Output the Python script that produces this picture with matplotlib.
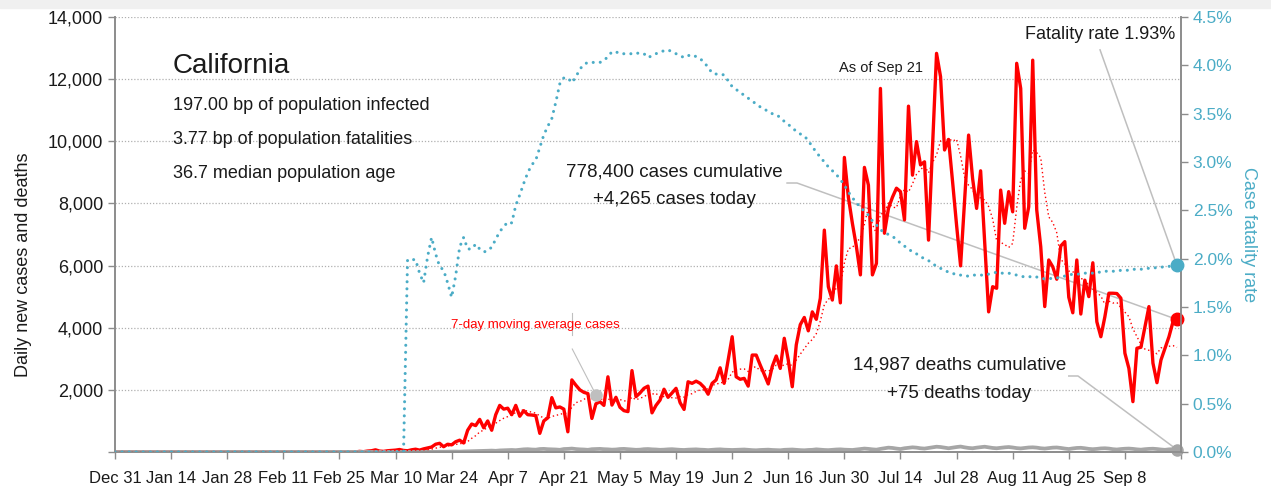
import matplotlib
matplotlib.use("Agg")
import matplotlib.pyplot as plt
from matplotlib.patches import Rectangle
import numpy as np
import pandas as pd

plt.rcParams["font.family"] = ["Liberation Sans", "DejaVu Sans"]

# ---- data ----
start = pd.Timestamp("2019-12-31")
end = pd.Timestamp("2020-09-21")
first_case_day = pd.Timestamp("2020-03-01")
first_cfr_day = pd.Timestamp("2020-03-13")

cases_mar = [20, 10, 30, 40, 70, 30, 20, 40, 50, 60, 80, 50, 40, 70, 90, 60, 100, 130, 160, 250,
             280, 170, 250, 230, 330, 380, 290, 700, 900, 850, 1050]
cases_apr = [780, 1000, 700, 1200, 1500, 1380, 1410, 1200, 1500, 1150, 1330, 1200, 1190, 1170, 600,
             1000, 1100, 1750, 1420, 1450, 1380, 650, 2320, 2150, 2000, 1920, 1880, 1080, 1550, 1620]
cases_may = [1500, 2420, 1510, 1760, 1440, 1330, 1300, 2620, 1780, 1900, 2050, 2120, 1260, 1500, 1670,
             2020, 1760, 1900, 2050, 1590, 1370, 2260, 2210, 2280, 2210, 2080, 1860, 2210, 2320, 2710, 2210]
cases_jun = [2960, 3710, 2420, 2340, 2370, 2120, 3120, 3120, 2800, 2500, 2190, 2750, 3090, 2690, 3660,
             2960, 2100, 3450, 4100, 4330, 3900, 4510, 4270, 4950, 7140, 5320, 4890, 5990, 4800, 9480]
cases_jul = [8200, 7360, 6610, 5700, 9160, 8590, 5700, 6070, 11700, 7040, 7840, 8200, 8490, 8380, 7470,
             11130, 8910, 9990, 9240, 9340, 6820, 9800, 12830, 12080, 9720, 10060, 8700, 7300, 5990, 8100, 10200]
cases_aug = [8800, 7840, 9050, 6800, 4510, 5320, 5270, 8430, 7360, 8380, 7730, 12510, 11700, 7200, 7890,
             12610, 7790, 6610, 4680, 6180, 5960, 5560, 6630, 6770, 4980, 4480, 6180, 4440, 5530, 5000, 6090]
cases_sep = [4190, 3710, 4350, 5110, 5110, 5100, 4950, 3180, 2690, 1620, 3340, 3370, 4030, 4680, 2860,
             2230, 2960, 3340, 3710, 4190, 4265]

deaths_mar = [0, 0, 0, 0, 1, 0, 0, 0, 1, 1, 0, 1, 2, 1, 3, 2, 4, 5, 3, 6, 8, 7, 10, 12, 15, 11, 18, 20,
              25, 28, 30]
deaths_apr = [35, 40, 45, 38, 50, 55, 60, 65, 58, 70, 85, 90, 80, 75, 95, 100, 90, 85, 80, 70, 95, 100,
              110, 95, 85, 80, 70, 90, 95, 100]
deaths_may = [90, 85, 75, 80, 95, 100, 90, 80, 70, 75, 90, 95, 85, 80, 70, 75, 85, 90, 80, 70, 65, 75,
              80, 85, 75, 70, 60, 70, 80, 85, 75]
deaths_jun = [70, 65, 70, 75, 80, 70, 60, 55, 65, 70, 75, 65, 60, 55, 70, 75, 80, 70, 60, 55, 65, 70, 85,
              75, 65, 60, 70, 80, 85, 75]
deaths_jul = [70, 65, 80, 95, 110, 100, 85, 75, 100, 120, 140, 130, 110, 95, 120, 135, 150, 140, 120, 110,
              130, 150, 170, 160, 140, 120, 140, 160, 175, 150, 130]
deaths_aug = [120, 140, 155, 170, 150, 130, 120, 135, 150, 160, 145, 125, 115, 130, 145, 150, 140, 120,
              110, 125, 140, 145, 130, 110, 95, 115, 130, 135, 120, 100, 90]
deaths_sep = [100, 115, 120, 110, 90, 80, 95, 105, 110, 100, 85, 75, 90, 100, 105, 95, 80, 70, 85, 90, 75]

# case fatality rate (%) from Mar 13
cfr_vals = [1.99, 1.99, 1.99, 1.85, 1.75, 2.02, 2.22, 2.05,
            1.92, 1.88, 1.75, 1.60, 1.82, 2.12, 2.22, 2.10, 2.10, 2.15,
            2.10, 2.07, 2.08, 2.12, 2.20, 2.28, 2.33, 2.38, 2.37, 2.55,
            2.66, 2.78, 2.89, 2.97, 3.02, 3.15, 3.28, 3.37, 3.45, 3.62,
            3.81, 3.87, 3.87, 3.82, 3.88, 3.96, 4.01, 4.03, 4.03, 4.03,
            4.03, 4.05, 4.09, 4.14, 4.14, 4.12, 4.12, 4.12, 4.12, 4.13,
            4.12, 4.12, 4.08, 4.10, 4.12, 4.14, 4.15, 4.16, 4.14, 4.12,
            4.10, 4.08, 4.10, 4.11, 4.09, 4.07, 4.03, 3.98, 3.92, 3.91,
            3.91, 3.90, 3.84, 3.78, 3.75, 3.72, 3.69, 3.66, 3.63, 3.60,
            3.57, 3.55, 3.52, 3.50, 3.49, 3.46, 3.42, 3.39, 3.35, 3.32,
            3.29, 3.27, 3.22, 3.16, 3.10, 3.05, 3.00, 2.95, 2.91, 2.87,
            2.82, 2.76, 2.69, 2.63, 2.58, 2.53, 2.49, 2.45, 2.39, 2.35,
            2.30, 2.27, 2.25, 2.23, 2.20, 2.16, 2.13, 2.10, 2.07, 2.05,
            2.02, 2.00, 1.98, 1.95, 1.92, 1.90, 1.88, 1.86, 1.85, 1.83,
            1.83, 1.82, 1.82, 1.83, 1.83, 1.83, 1.83, 1.84, 1.85, 1.86,
            1.85, 1.85, 1.85, 1.84, 1.83, 1.82, 1.81, 1.81, 1.82, 1.81,
            1.80, 1.79, 1.79, 1.80, 1.80, 1.81, 1.82, 1.83, 1.84, 1.84,
            1.84, 1.85, 1.85, 1.85, 1.86, 1.86, 1.87, 1.87, 1.87, 1.87,
            1.88, 1.88, 1.88, 1.89, 1.89, 1.89, 1.90, 1.90, 1.90, 1.91,
            1.91, 1.92, 1.92, 1.93, 1.93]

# ---- assemble daily series ----
dates = pd.date_range(start, end, freq="D")
n_pre_cases = (first_case_day - start).days
n_pre_cfr = (first_cfr_day - start).days
cases = pd.Series([0] * n_pre_cases + cases_mar + cases_apr + cases_may + cases_jun + cases_jul
                  + cases_aug + cases_sep, index=dates, dtype=float)
deaths = pd.Series([0] * n_pre_cases + deaths_mar + deaths_apr + deaths_may + deaths_jun + deaths_jul
                   + deaths_aug + deaths_sep, index=dates, dtype=float)
cfr = pd.Series([0.0] * n_pre_cfr + cfr_vals, index=dates)
cases_ma = cases.rolling(7, min_periods=1).mean()

red = "#ff0000"
cyan = "#4bacc6"
gray = "#a6a6a6"
lead = "#bfbfbf"
ink = "#1a1a1a"

W, H = 1271, 493
fig = plt.figure(figsize=(W / 100, H / 100), dpi=100)
fig.patches.append(Rectangle((0, 1 - 8 / H), 1, 8 / H, transform=fig.transFigure,
                             color="#f0f0f0", zorder=0))
ax = fig.add_axes([115 / W, 41 / H, 1066 / W, 435 / H])
ax2 = ax.twinx()

# ---- lines ----
ax.plot(dates, cases, color=red, lw=2.4, zorder=3, solid_joinstyle="round")
ax.plot(dates, deaths, color=gray, lw=2.7, zorder=4)
ax.plot(dates, cases_ma, color=red, lw=1.0, ls=(0, (1, 2)), zorder=5)
ax2.plot(dates, cfr, color=cyan, lw=2.2, ls=(0, (0.01, 2.3)), dash_capstyle="round", zorder=3)

# end markers
ax.plot(dates[-1], cases.iloc[-1], "o", color=red, ms=9, zorder=6, clip_on=False)
ax.plot(dates[-1], deaths.iloc[-1], "o", color=gray, ms=8, zorder=6, clip_on=False)
ax2.plot(dates[-1], cfr.iloc[-1], "o", color=cyan, ms=9, zorder=6, clip_on=False)

# ---- axes ----
ticks = pd.date_range(start, "2020-09-22", freq="14D")
ax.set_xlim(start, pd.Timestamp("2020-09-22"))
ax.set_xticks(ticks)
ax.set_xticklabels([f"{d:%b} {d.day}" for d in ticks[:-1]] + [""])

ax.set_ylim(0, 14000)
ax.set_yticks(range(0, 14001, 2000))
ax.set_yticklabels([""] + [f"{v:,}" for v in range(2000, 14001, 2000)])
ax2.set_ylim(0, 4.5)
ax2.set_yticks(np.arange(0, 4.51, 0.5))
ax2.set_yticklabels([f"{v:.1f}%" for v in np.arange(0, 4.51, 0.5)])

ax.yaxis.grid(True, ls=(0, (1, 1.5)), color="#b0b0b0", lw=0.9)
ax.set_axisbelow(True)

for a in (ax, ax2):
    a.spines["top"].set_visible(False)
    for s in ("left", "right", "bottom"):
        a.spines[s].set_color("#8c8c8c")
        a.spines[s].set_linewidth(1.2)
ax.tick_params(axis="both", direction="out", length=5, width=1, color="#8c8c8c",
               labelcolor=ink)
ax.tick_params(axis="x", pad=9, labelsize=12)
ax.tick_params(axis="y", labelsize=13)
ax2.tick_params(axis="y", direction="out", length=5, width=1, color="#8c8c8c",
                labelsize=12.5, labelcolor=cyan)

ax.set_ylabel("Daily new cases and deaths", fontsize=13, color=ink)
ax.yaxis.set_label_coords(-0.078, 0.43)
ax2.set_ylabel("Case fatality rate", fontsize=13, color=cyan, rotation=270, va="center")
ax2.yaxis.set_label_coords(1.063, 0.5)

# ---- text ----
tr = ax.transAxes
ax.text(0.054, 0.871, "California", fontsize=20, color=ink, transform=tr, va="baseline")
ax.text(0.054, 0.786, "197.00 bp of population infected", fontsize=13, color=ink, transform=tr,
        va="baseline")
ax.text(0.054, 0.708, "3.77 bp of population fatalities", fontsize=13, color=ink, transform=tr,
        va="baseline")
ax.text(0.054, 0.630, "36.7 median population age", fontsize=13, color=ink, transform=tr,
        va="baseline")
ax.text(0.719, 0.874, "As of Sep 21", fontsize=10.5, color=ink, transform=tr, ha="center",
        va="baseline")
ax.text(0.924, 0.949, "Fatality rate 1.93%", fontsize=13, color=ink, transform=tr, ha="center",
        va="baseline")
ax.text(0.525, 0.633, "778,400 cases cumulative", fontsize=13.5, color=ink, transform=tr,
        ha="center", va="baseline")
ax.text(0.525, 0.570, "+4,265 cases today", fontsize=13.5, color=ink, transform=tr, ha="center",
        va="baseline")
ax.text(0.792, 0.189, "14,987 deaths cumulative", fontsize=13.5, color=ink, transform=tr,
        ha="center", va="baseline")
ax.text(0.792, 0.123, "+75 deaths today", fontsize=13.5, color=ink, transform=tr, ha="center",
        va="baseline")
ax.text(0.394, 0.284, "7-day moving average cases", fontsize=9.5, color=red, transform=tr,
        ha="center", va="baseline")

# ---- leader lines ----
def day(d):
    return start + pd.Timedelta(days=d)

ax.plot([day(167.7), day(170.2), dates[-1]], [8657, 8657, cases.iloc[-1]], color=lead, lw=1.1, zorder=2)
ax.plot([day(238.0), day(240.3), dates[-1]], [2446, 2446, deaths.iloc[-1]], color=lead, lw=1.1, zorder=2)
ax2.plot([day(245.8), dates[-1]], [4.16, cfr.iloc[-1]], color=lead, lw=1.1, zorder=2)
ma_pt = pd.Timestamp("2020-04-29")
ax.plot([day(114.1), ma_pt], [3315, cases_ma[ma_pt]], color=lead, lw=0.8, zorder=2)
ax.plot([day(114.1), day(114.1)], [3765, 4473], color=lead, lw=0.8, zorder=2)
ax.plot(ma_pt, cases_ma[ma_pt], "o", color=lead, ms=8, zorder=6)

fig.savefig("out.png", dpi=100)
